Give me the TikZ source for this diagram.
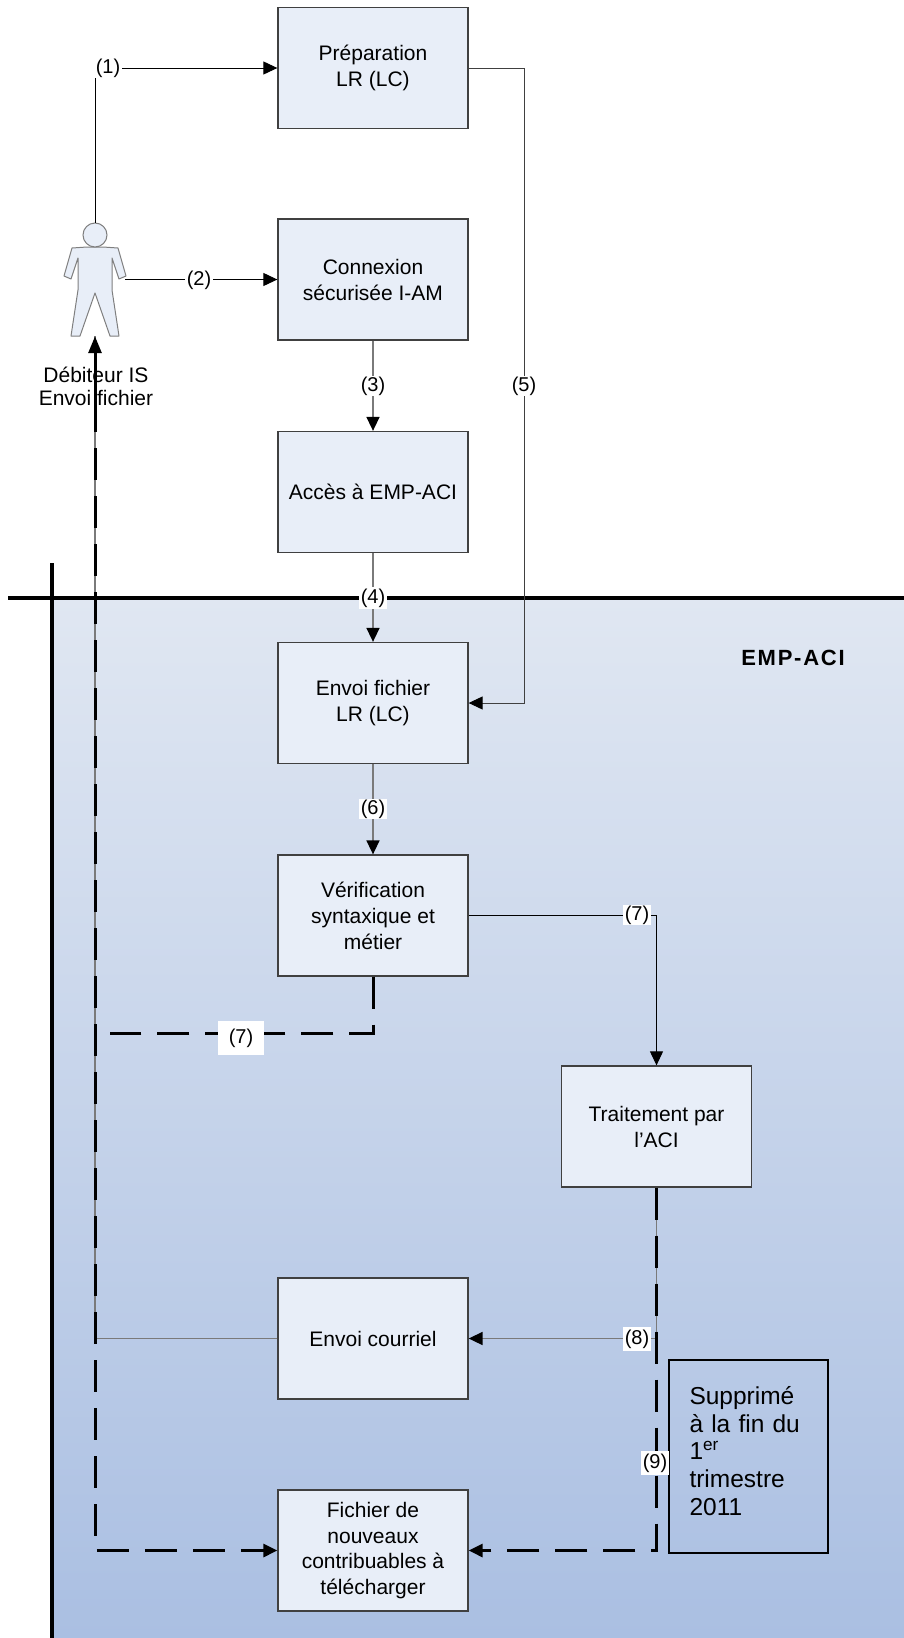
\documentclass[tikz,border=0pt]{standalone}
\usepackage{fontspec}
\setmainfont{Liberation Sans}
\usetikzlibrary{arrows.meta}
\definecolor{boxfill}{HTML}{E8EEF8}
\definecolor{boxline}{HTML}{404040}
\definecolor{gtop}{HTML}{E0E7F2}
\definecolor{gbot}{HTML}{AABFE2}
\definecolor{lgray}{HTML}{7A7A7A}
\definecolor{figline}{HTML}{7F7F7F}
\begin{document}
\begin{tikzpicture}[x=1pt,y=-1pt,
  stepbox/.style={draw=boxline, line width=1.3pt, fill=boxfill, minimum width=190pt, minimum height=121pt, inner sep=2pt, align=center, font=\fontsize{21}{26}\selectfont},
  lbl/.style={fill=white, inner xsep=1.5pt, inner ysep=1pt, font=\fontsize{20}{22}\selectfont},
  tip/.style={-{Triangle[length=14pt,width=13pt,color=black]}},
  thinblack/.style={draw=black, line width=1pt},
  thingray/.style={draw=lgray, line width=1.6pt},
  dashline/.style={draw=black, line width=3pt, dash pattern=on 32pt off 16pt},
  supbox/.style={draw=black, line width=2.5pt, minimum width=159pt, minimum height=193pt, inner sep=0pt},
  suptext/.style={align=left, text width=120pt, inner sep=0pt, font=\fontsize{24.5}{27.7}\selectfont},
]
\useasboundingbox (0,0) rectangle (904,1638);
% EMP-ACI zone
\shade[top color=gtop, bottom color=gbot] (52,598) rectangle (904,1638);
\draw[line width=4pt] (8,598) -- (904,598);
\draw[line width=4pt] (52,563) -- (52,1638);
\node[font=\fontsize{22}{24}\selectfont\bfseries\addfontfeatures{LetterSpace=8}] (zone) at (793,658) {EMP-ACI};

% actor
\node[minimum width=60pt, minimum height=113pt, inner sep=0pt] (person) at (95,279.5) {};
\draw[draw=figline, fill=boxfill, line width=1pt, line join=round]
  (87,247) -- (72,248) -- (64,276) -- (71,279) -- (78,258) -- (78,290) -- (71,336) -- (80,336)
  -- (95,293) -- (110,336) -- (119,336) -- (112,290) -- (112,258) -- (119,279) -- (126,276)
  -- (118,248) -- (103,247) -- cycle;
\draw[draw=figline, fill=boxfill, line width=1pt] (95,235) circle[radius=12pt];
\node[align=center, inner sep=0pt, font=\fontsize{21}{23}\selectfont] (actorlbl) at (96,386) {Débiteur IS\\Envoi fichier};

% boxes
\node[stepbox] (prep) at (373,68) {Préparation\\LR (LC)};
\node[stepbox] (conn) at (373,279.5) {Connexion\\sécurisée I-AM};
\node[stepbox] (acces) at (373,492) {Accès à EMP-ACI};
\node[stepbox] (envoi) at (373,703) {Envoi fichier\\LR (LC)};
\node[stepbox] (verif) at (373,915.5) {Vérification\\syntaxique et\\métier};
\node[stepbox] (trait) at (656.5,1126.5) {Traitement par\\l’ACI};
\node[stepbox] (courriel) at (373,1338.5) {Envoi courriel};
\node[stepbox, font=\fontsize{21}{25.5}\selectfont] (fichier) at (373,1550.5) {Fichier de\\nouveaux\\contribuables à\\télécharger};
\node[supbox] (supp) at (748.5,1456.5) {};
\node[suptext] (supptxt) at (749.5,1451) {Supprimé\\\makebox[120pt][s]{à la fin du}\\1\textsuperscript{er}\\trimestre\\2011};

% connectors
\coordinate (c1) at (95,68);
\draw[thinblack, tip] (person.north) -- (c1) -- (prep.west);
\draw[thinblack, tip] (person.east) -- (conn.west);
\draw[thingray, tip] (conn.south) -- (acces.north);
\draw[thingray, tip] (acces.south) -- (envoi.north);
\coordinate (c5) at (524,68);
\draw[thinblack, draw=black!75, tip] (prep.east) -- (c5) |- (envoi.east);
\draw[thingray, tip] (envoi.south) -- (verif.north);
\draw[thinblack, tip] (verif.east) -| (trait.north);
\coordinate (c7) at (110,1033);
\draw[dashline] (verif.south) |- (c7);
\draw[thingray, tip] (trait.south) |- (courriel.east);
\draw[dashline, -{Triangle[length=14pt,width=13pt]}] (trait.south) |- (fichier.east);
\draw[thingray] (courriel.west) -| (person.south);
\draw[dashline, {Triangle[length=17pt,width=13pt]}-{Triangle[length=14pt,width=13pt]}] (person.south) |- (fichier.west);
\draw[line width=3pt] (95,346) -- (95,426);

% labels
\node[lbl] (l1) at (108,68) {(1)};
\node[lbl] (l2) at (199,280) {(2)};
\node[lbl] (l3) at (373,386) {(3)};
\node[lbl] (l5) at (524,386) {(5)};
\node[lbl, inner ysep=2pt] (l4) at (373,598) {(4)};
\node[lbl] (l6) at (373,809) {(6)};
\node[lbl] (l7a) at (637,915) {(7)};
\node[lbl, inner xsep=11pt, inner ysep=8pt] (l7b) at (241,1038) {(7)};
\node[lbl, inner ysep=3pt] (l8) at (637,1339) {(8)};
\node[lbl, inner ysep=3pt] (l9) at (655,1463) {(9)};
\end{tikzpicture}
\end{document}
